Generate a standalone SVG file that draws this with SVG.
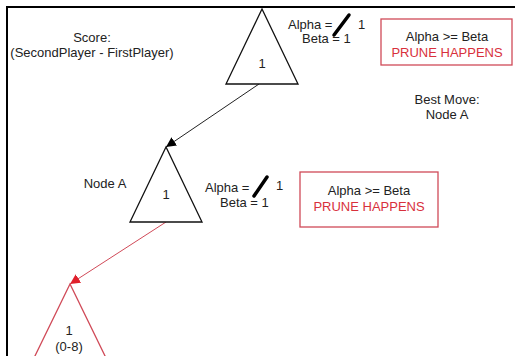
<svg xmlns="http://www.w3.org/2000/svg" width="515" height="356" viewBox="0 0 515 356">
<defs>
<style>
text{font-family:"Liberation Sans",Arial,sans-serif;font-size:13px;fill:#222}
.c{text-anchor:middle}
.red{fill:#d8303c}
.tri{fill:#fff;stroke:#111;stroke-width:1.3}
.trired{fill:#fff;stroke:#d04a58;stroke-width:1.3}
.box{fill:#fff;stroke:#d04a58;stroke-width:1.3}
.strike{stroke:#000;stroke-width:3.5;stroke-linecap:round}
</style>
<marker id="ab" viewBox="0 0 10 10" refX="10" refY="5" markerWidth="10" markerHeight="10" markerUnits="userSpaceOnUse" orient="auto"><path d="M0,0 L10,5 L0,10 z" fill="#000"/></marker>
<marker id="ar" viewBox="0 0 10 10" refX="10" refY="5" markerWidth="10" markerHeight="10" markerUnits="userSpaceOnUse" orient="auto"><path d="M0,0 L10,5 L0,10 z" fill="#e0202c"/></marker>
</defs>
<rect width="515" height="356" fill="#fff"/>
<path d="M7,356 V7 H515" fill="none" stroke="#000" stroke-width="2"/>
<g id="score-label">
<text class="c" x="92" y="42">Score:</text>
<text class="c" x="92" y="57">(SecondPlayer - FirstPlayer)</text>
</g>
<g id="connectors">
<line x1="259" y1="84" x2="166" y2="147" stroke="#222" stroke-width="1" marker-end="url(#ab)"/>
<line x1="166" y1="222" x2="70" y2="284" stroke="#d04a58" stroke-width="1" marker-end="url(#ar)"/>
</g>
<g id="root">
<polygon class="tri" points="262,9 226,84 298,84"/>
<text class="c" x="262" y="68">1</text>
</g>
<g id="root-ab">
<text x="288" y="29">Alpha = </text>
<text x="358" y="29">1</text>
<text x="302" y="43">Beta = 1</text>
<line class="strike" x1="334" y1="35" x2="349" y2="15"/>
</g>
<g id="prune1">
<rect class="box" x="381" y="19" width="131" height="46"/>
<text class="c" x="447" y="41">Alpha &gt;= Beta</text>
<text class="c red" x="447" y="57">PRUNE HAPPENS</text>
</g>
<g id="best-move">
<text class="c" x="447" y="104">Best Move:</text>
<text class="c" x="447" y="119">Node A</text>
</g>
<g id="nodeA">
<polygon class="tri" points="166,147 130,222 202,222"/>
<text class="c" x="166" y="199">1</text>
<text class="c" x="105" y="188">Node A</text>
</g>
<g id="nodeA-ab">
<text x="205" y="192">Alpha = </text>
<text x="276" y="190">1</text>
<text x="220" y="207">Beta = 1</text>
<line class="strike" x1="254" y1="196" x2="267" y2="177"/>
</g>
<g id="prune2">
<rect class="box" x="300" y="172" width="138" height="55"/>
<text class="c" x="369" y="195">Alpha &gt;= Beta</text>
<text class="c red" x="369" y="211">PRUNE HAPPENS</text>
</g>
<g id="leaf">
<polygon class="trired" points="70,284 33,360 107,360"/>
<text class="c" x="69" y="335">1</text>
<text class="c" x="69" y="351">(0-8)</text>
</g>
</svg>
